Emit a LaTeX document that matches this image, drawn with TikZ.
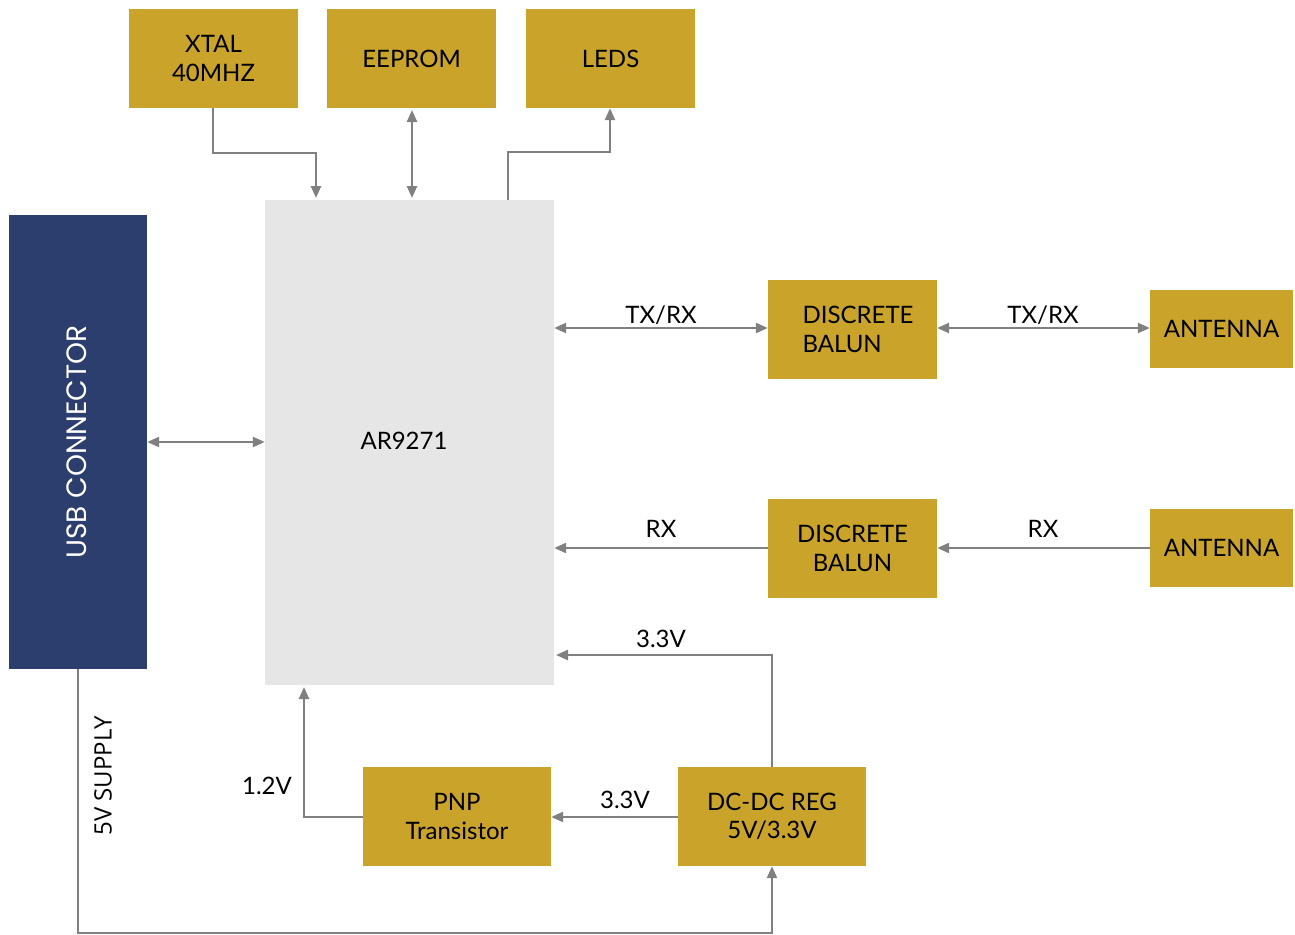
\documentclass[tikz,border=0pt]{standalone}
\usepackage{fontspec}
\setmainfont{Lato}
\newfontfamily\geofont{Poppins}
\newfontfamily\supfont{Open Sans}
\usetikzlibrary{arrows.meta}
\definecolor{gold}{HTML}{CAA32B}
\definecolor{navy}{HTML}{2C3E6E}
\definecolor{chip}{HTML}{E6E6E6}
\definecolor{wire}{HTML}{808080}
\tikzset{
  blk/.style={fill=gold, draw=none, inner sep=0pt, font=\fontsize{24}{28.5}\selectfont, align=center},
  wirearrow/.style={draw=wire, line width=2.4pt, -{Triangle[length=12pt,width=10pt]}},
  wireboth/.style={draw=wire, line width=2.4pt, {Triangle[length=12pt,width=10pt]}-{Triangle[length=12pt,width=10pt]}},
  lbl/.style={font=\fontsize{24}{28}\selectfont, inner sep=0pt},
}
\begin{document}
\begin{tikzpicture}[x=1pt,y=-1pt]
\useasboundingbox[fill=white] (0,0) rectangle (1295,934);
% blocks
\node[blk, minimum width=169pt, minimum height=99pt] (xtal) at (213.5,58.5) {XTAL\\40MHZ};
\node[blk, minimum width=169pt, minimum height=99pt] (eeprom) at (411.5,58.5) {EEPROM};
\node[blk, minimum width=169pt, minimum height=99pt] (leds) at (610.5,58.5) {LEDS};
\node[fill=chip, inner sep=0pt, minimum width=289pt, minimum height=485pt] (chipn) at (409.5,442.5) {};
\node[lbl] (chiptxt) at (404,441) {AR9271};
\node[fill=navy, inner sep=0pt, minimum width=138pt, minimum height=454pt] (usb) at (78,442) {};
\node[text=white, rotate=90, font=\geofont\fontsize{28}{32}\selectfont, inner sep=0pt] (usbtxt) at (77,442) {USB CONNECTOR};
\node[blk, minimum width=169pt, minimum height=99pt] (bal1) at (852.5,329.5) {};
\node[blk, fill=none, align=left] (bal1txt) at (858,329.5) {DISCRETE\\BALUN};
\node[blk, minimum width=143pt, minimum height=78pt] (ant1) at (1221.5,329) {ANTENNA};
\node[blk, minimum width=169pt, minimum height=99pt] (bal2) at (852.5,548.5) {DISCRETE\\BALUN};
\node[blk, minimum width=143pt, minimum height=78pt] (ant2) at (1221.5,548) {ANTENNA};
\node[blk, minimum width=188pt, minimum height=99pt] (pnp) at (457,816.5) {PNP\\Transistor};
\node[blk, minimum width=188pt, minimum height=99pt] (dcdc) at (772,816.5) {DC-DC REG\\5V/3.3V};
% coordinates
\coordinate (xa) at (213,153);
\coordinate (xb) at (316,153);
\coordinate (xc) at (316,198);
\coordinate (la) at (508,200);
\coordinate (lb) at (508,152);
\coordinate (lc) at (610,152);
\coordinate (pa) at (304,817);
\coordinate (pb) at (304,687);
\coordinate (da) at (772,655);
\coordinate (db) at (556,655);
\coordinate (sa) at (78,933);
\coordinate (sb) at (772,933);
% connectors
\draw[wirearrow] (xtal.south -| xa) -- (xa) -- (xb) -- (xc);
\draw[wireboth] (412,110) -- (412,198);
\draw[wirearrow] (la) -- (lb) -- (lc) -- (leds.south -| lc);
\draw[wireboth] (usb.east |- 0,442) -- (chipn.west |- 0,442);
\draw[wireboth] (chipn.east |- 0,328) -- (bal1.west |- 0,328);
\draw[wireboth] (bal1.east |- 0,328) -- (ant1.west |- 0,328);
\draw[wirearrow] (bal2.west |- 0,548) -- (chipn.east |- 0,548);
\draw[wirearrow] (ant2.west |- 0,548) -- (bal2.east |- 0,548);
\draw[wirearrow] (dcdc.north) -- (da) -- (db);
\draw[wirearrow] (dcdc.west |- 0,817) -- (pnp.east |- 0,817);
\draw[wirearrow] (pnp.west |- 0,817) -- (pa) -- (pb);
\draw[wirearrow] (usb.south) -- (sa) -- (sb) -- (dcdc.south);
% labels
\node[lbl] (l1) at (661,315) {TX/RX};
\node[lbl] (l2) at (1043,315) {TX/RX};
\node[lbl] (l3) at (661,529) {RX};
\node[lbl] (l4) at (1043,529) {RX};
\node[lbl] (l5) at (661,639) {3.3V};
\node[lbl] (l6) at (625,800) {3.3V};
\node[lbl] (l7) at (267,786) {1.2V};
\node[rotate=90, font=\supfont\fontsize{24}{28}\selectfont, inner sep=0pt] (l8) at (103,776) {5V SUPPLY};
\end{tikzpicture}
\end{document}
